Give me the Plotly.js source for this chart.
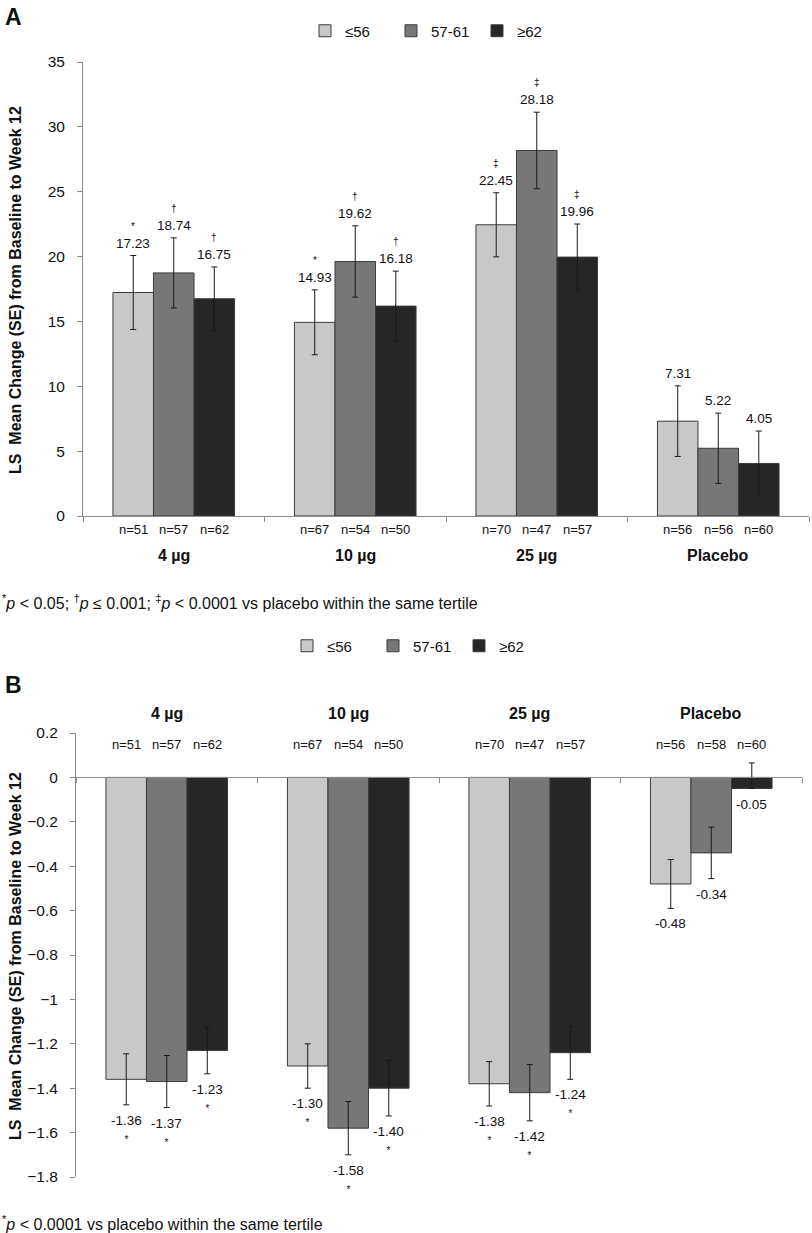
<!DOCTYPE html>
<html>
<head>
<meta charset="utf-8">
<script src="https://cdn.plot.ly/plotly-3.0.1.min.js"></script>
<style>
  body { margin: 0; background: #fff; }
  #chart { width: 812px; height: 1233px; }
</style>
</head>
<body>
<div id="chart"></div>
<script>
// categories and tertile groups
const doses = ['4 µg', '10 µg', '25 µg', 'Placebo'];
const tertiles = ['≤56', '57-61', '≥62'];
const colors = ['#c8c8c8', '#777777', '#262626'];

// Panel A - LS mean change (SE), one array per tertile
const meanA_low = [17.23, 14.93, 22.45, 7.31];
const meanA_mid = [18.74, 19.62, 28.18, 5.22];
const meanA_high = [16.75, 16.18, 19.96, 4.05];
const seA_low = [2.85, 2.5, 2.47, 2.72];
const seA_mid = [2.7, 2.75, 2.95, 2.71];
const seA_high = [2.45, 2.7, 2.55, 2.5];
const sigA_low = ['*', '*', '‡', ''];
const sigA_mid = ['†', '†', '‡', ''];
const sigA_high = ['†', '†', '‡', ''];
const nA_low = [51, 67, 70, 56];
const nA_mid = [57, 54, 47, 56];
const nA_high = [62, 50, 57, 60];

// Panel B
const meanB_low = [-1.36, -1.30, -1.38, -0.48];
const meanB_mid = [-1.37, -1.58, -1.42, -0.34];
const meanB_high = [-1.23, -1.40, -1.24, -0.05];
const seB_low = [0.115, 0.10, 0.10, 0.11];
const seB_mid = [0.117, 0.12, 0.127, 0.116];
const seB_high = [0.105, 0.125, 0.12, 0.115];
// lower arm of the placebo >=62 bar is not drawn in the figure
const seB_high_minus = [0.105, 0.125, 0.12, 0];
const sigB_low = ['*', '*', '*', ''];
const sigB_mid = ['*', '*', '*', ''];
const sigB_high = ['*', '*', '*', ''];
const nB_low = [51, 67, 70, 56];
const nB_mid = [57, 54, 47, 58];
const nB_high = [62, 50, 57, 60];

const W = 812, H = 1233;
const FONT = 'Arial, "Liberation Sans", sans-serif';
const bargap = 0.33;
const barW = (1 - bargap) / 3;
const px = v => v / W;          // horizontal pixel -> paper
const py = v => 1 - v / H;      // vertical pixel -> paper

const meansA = [meanA_low, meanA_mid, meanA_high];
const sesA = [seA_low, seA_mid, seA_high];
const sigsA = [sigA_low, sigA_mid, sigA_high];
const nsA = [nA_low, nA_mid, nA_high];
const meansB = [meanB_low, meanB_mid, meanB_high];
const sesB = [seB_low, seB_mid, seB_high];
const sesBminus = [seB_low, seB_mid, seB_high_minus];
const sigsB = [sigB_low, sigB_mid, sigB_high];
const nsB = [nB_low, nB_mid, nB_high];

let traces = [];
let annotations = [];

function addPanel(means, ses, sesMinus, xa, ya, legend) {
    tertiles.forEach((t, j) => {
        traces.push({
            type: 'bar',
            name: t,
            x: doses,
            y: means[j],
            xaxis: xa,
            yaxis: ya,
            legend: legend,
            marker: {color: colors[j], line: {color: '#3c3c3c', width: 1}},
            error_y: {type: 'data', array: ses[j], arrayminus: sesMinus[j], symmetric: false,
                      visible: true, color: '#1a1a1a', thickness: 1, width: 3},
            hoverinfo: 'skip'
        });
    });
}

addPanel(meansA, sesA, sesA, 'x', 'y', 'legend');
addPanel(meansB, sesB, sesBminus, 'x2', 'y2', 'legend2');

const small = s => `<span style="font-size:10px;fill:#111">${s}</span>`;

// value labels, n labels, category names
doses.forEach((d, i) => {
    tertiles.forEach((t, j) => {
        const off = (j - 1) * barW;
        const vA = meansA[j][i];
        annotations.push({
            xref: 'x', yref: 'y', x: i + off, y: vA + sesA[j][i],
            xanchor: 'center', yanchor: 'bottom', yshift: 3, showarrow: false,
            text: sigsA[j][i] ? small(sigsA[j][i]) + '<br>' + vA.toFixed(2) : vA.toFixed(2),
            font: {size: 13.5}
        });
        annotations.push({
            xref: 'x', yref: 'paper', x: i + off, y: py(529), xanchor: 'center', yanchor: 'middle',
            showarrow: false, text: 'n=' + nsA[j][i], font: {size: 13}
        });
        const vB = meansB[j][i];
        annotations.push({
            xref: 'x2', yref: 'y2', x: i + off, y: vB - sesBminus[j][i],
            xanchor: 'center', yanchor: 'top', yshift: -6, showarrow: false,
            text: sigsB[j][i] ? vB.toFixed(2) + '<br>' + small(sigsB[j][i]) : vB.toFixed(2),
            font: {size: 13.5}
        });
        annotations.push({
            xref: 'x2', yref: 'paper', x: i + off, y: py(744), xanchor: 'center', yanchor: 'middle',
            showarrow: false, text: 'n=' + nsB[j][i], font: {size: 13}
        });
    });
    annotations.push({
        xref: 'x', yref: 'paper', x: i, y: py(555), xanchor: 'center', yanchor: 'middle',
        showarrow: false, text: '<b>' + d + '</b>', font: {size: 16}
    });
    annotations.push({
        xref: 'x2', yref: 'paper', x: i, y: py(713), xanchor: 'center', yanchor: 'middle',
        showarrow: false, text: '<b>' + d + '</b>', font: {size: 16}
    });
});

const yTitle = '<b>LS  Mean Change (SE) from Baseline to Week 12</b>';
annotations.push(
    {xref: 'paper', yref: 'paper', x: px(15), y: py(290), xanchor: 'center', yanchor: 'middle',
     textangle: -90, showarrow: false, text: yTitle, font: {size: 16}},
    {xref: 'paper', yref: 'paper', x: px(15), y: py(956), xanchor: 'center', yanchor: 'middle',
     textangle: -90, showarrow: false, text: yTitle, font: {size: 16}},
    {xref: 'paper', yref: 'paper', x: px(3), y: py(17), xanchor: 'left', yanchor: 'middle',
     showarrow: false, text: '<b>A</b>', font: {size: 23}},
    {xref: 'paper', yref: 'paper', x: px(3), y: py(685), xanchor: 'left', yanchor: 'middle',
     showarrow: false, text: '<b>B</b>', font: {size: 23}},
    {xref: 'paper', yref: 'paper', x: 0, y: py(602), xanchor: 'left', yanchor: 'middle', showarrow: false,
     text: '<sup>*</sup><i>p</i> &lt; 0.05; <sup>†</sup><i>p</i> ≤ 0.001; <sup>‡</sup><i>p</i> &lt; 0.0001 vs placebo within the same tertile',
     font: {size: 16}},
    {xref: 'paper', yref: 'paper', x: 0, y: py(1223), xanchor: 'left', yanchor: 'middle', showarrow: false,
     text: '<sup>*</sup><i>p</i> &lt; 0.0001 vs placebo within the same tertile',
     font: {size: 16}}
);

const axisLine = '#8c8c8c';
const layout = {
    width: W,
    height: H,
    margin: {l: 0, r: 0, t: 0, b: 0},
    paper_bgcolor: '#fff',
    plot_bgcolor: '#fff',
    font: {family: FONT, size: 14, color: '#111'},
    barmode: 'group',
    bargap: bargap,
    bargroupgap: 0,
    showlegend: true,
    legend: {orientation: 'h', x: px(305), y: py(31), xanchor: 'left', yanchor: 'middle',
             font: {size: 15}, entrywidth: 41, entrywidthmode: 'pixels', traceorder: 'normal'},
    legend2: {orientation: 'h', x: px(287), y: py(646), xanchor: 'left', yanchor: 'middle',
              font: {size: 15}, entrywidth: 41, entrywidthmode: 'pixels', traceorder: 'normal'},
    xaxis: {
        domain: [px(83), px(809)], anchor: 'y', type: 'category',
        showline: true, linecolor: axisLine, linewidth: 1,
        ticks: 'outside', tickson: 'boundaries', ticklen: 5, tickcolor: axisLine,
        showticklabels: false, showgrid: false, zeroline: false, fixedrange: true
    },
    yaxis: {
        domain: [py(516), py(62)], anchor: 'x', range: [0, 35], dtick: 5,
        showline: true, linecolor: axisLine, linewidth: 1,
        ticks: 'outside', ticklen: 5, tickcolor: axisLine, ticklabelstandoff: 9,
        tickfont: {size: 15.5}, showgrid: false, zeroline: false, fixedrange: true
    },
    xaxis2: {
        domain: [px(76), px(802)], anchor: 'free', position: py(777), type: 'category',
        showline: true, linecolor: axisLine, linewidth: 1,
        ticks: 'outside', tickson: 'boundaries', ticklen: 5, tickcolor: axisLine,
        showticklabels: false, showgrid: false, zeroline: false, fixedrange: true
    },
    yaxis2: {
        domain: [py(1177), py(733)], anchor: 'x2', range: [-1.8, 0.2], dtick: 0.2,
        showline: true, linecolor: axisLine, linewidth: 1,
        ticks: 'outside', ticklen: 5, tickcolor: axisLine, ticklabelstandoff: 9,
        tickfont: {size: 15.5}, showgrid: false, zeroline: false, fixedrange: true
    },
    annotations: annotations
};

Plotly.newPlot('chart', traces, layout, {displayModeBar: false, staticPlot: true});
</script>
</body>
</html>
